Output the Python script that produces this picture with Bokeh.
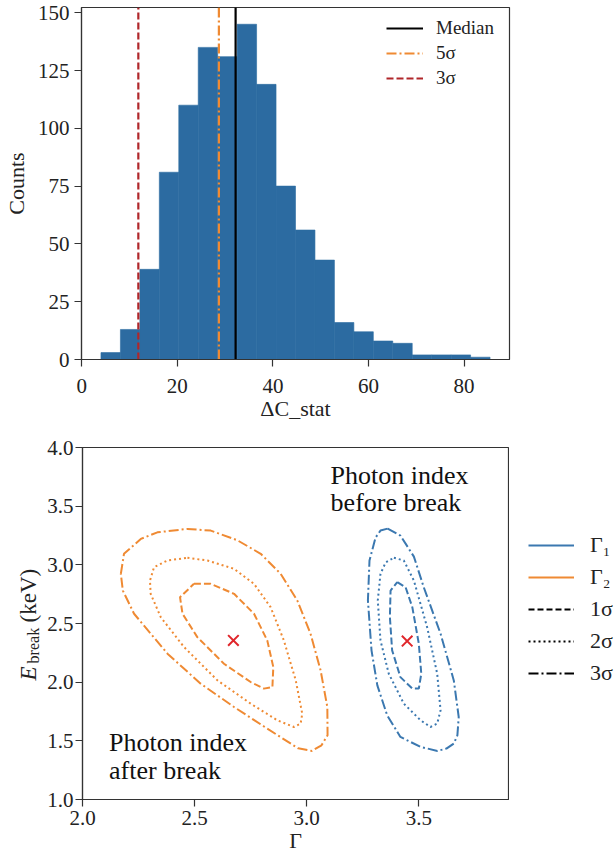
import numpy as np
from bokeh.plotting import figure
from bokeh.layouts import column, row
from bokeh.models import Range1d, FixedTicker, NumeralTickFormatter, Legend, LegendItem, Label
from bokeh.core.properties import value
from bokeh.embed import file_html
from bokeh.resources import INLINE

# ---------------- top panel: histogram of Delta C_stat ----------------
counts = [3, 13, 39, 81, 110, 135, 131, 145, 119, 75, 56, 43, 16, 12, 8, 7, 2, 2, 2, 1]
bin_start = 4.03
bin_width = 4.07
median_val = 32.2
five_sigma = 28.7
three_sigma = 11.85
hist_xticks = [0, 20, 40, 60, 80]
hist_yticks = [0, 25, 50, 75, 100, 125, 150]

# ---------------- bottom panel: confidence contours ----------------
# Gamma_1 (before break, blue)
g1_1s_x = [3.404, 3.441, 3.471, 3.500, 3.511, 3.500, 3.471, 3.418, 3.381, 3.371, 3.374]
g1_1s_y = [2.852, 2.809, 2.639, 2.328, 2.072, 1.945, 1.945, 2.043, 2.271, 2.554, 2.781]
g1_2s_x = [3.389, 3.433, 3.478, 3.537, 3.582, 3.597, 3.582, 3.552, 3.508, 3.433, 3.366, 3.329, 3.317, 3.329, 3.352]
g1_2s_y = [3.060, 3.037, 2.866, 2.469, 2.072, 1.760, 1.647, 1.618, 1.675, 1.817, 2.072, 2.356, 2.696, 2.923, 3.020]
g1_3s_x = [3.361, 3.418, 3.478, 3.522, 3.597, 3.656, 3.678, 3.672, 3.656, 3.623, 3.583, 3.508, 3.418, 3.359, 3.315, 3.289, 3.273, 3.280, 3.307, 3.329]
g1_3s_y = [3.309, 3.249, 3.070, 2.809, 2.413, 2.015, 1.703, 1.547, 1.477, 1.434, 1.414, 1.448, 1.533, 1.717, 1.973, 2.271, 2.696, 3.037, 3.232, 3.292]
# Gamma_2 (after break, orange)
g2_1s_x = [2.497, 2.572, 2.676, 2.765, 2.824, 2.851, 2.847, 2.809, 2.750, 2.631, 2.512, 2.446, 2.435]
g2_1s_y = [2.838, 2.838, 2.753, 2.583, 2.356, 2.129, 1.958, 1.945, 2.001, 2.157, 2.384, 2.583, 2.724]
g2_2s_x = [2.468, 2.557, 2.676, 2.765, 2.839, 2.898, 2.951, 2.980, 2.973, 2.943, 2.869, 2.750, 2.602, 2.453, 2.349, 2.304, 2.301, 2.319, 2.379]
g2_2s_y = [3.060, 3.037, 2.966, 2.838, 2.639, 2.356, 2.016, 1.732, 1.647, 1.618, 1.675, 1.817, 2.015, 2.299, 2.554, 2.753, 2.866, 2.980, 3.037]
g2_3s_x = [2.171, 2.185, 2.260, 2.334, 2.468, 2.572, 2.691, 2.795, 2.884, 2.958, 3.017, 3.062, 3.092, 3.093, 3.066, 3.023, 2.962, 2.824, 2.676, 2.527, 2.379, 2.230, 2.180]
g2_3s_y = [2.923, 3.094, 3.221, 3.277, 3.306, 3.292, 3.209, 3.094, 2.923, 2.696, 2.413, 2.100, 1.788, 1.547, 1.462, 1.414, 1.436, 1.604, 1.788, 1.987, 2.243, 2.583, 2.780]
best_x = [3.448, 2.673]
best_y = [2.350, 2.356]
cont_xticks = [2.0, 2.5, 3.0, 3.5]
cont_yticks = [1.0, 1.5, 2.0, 2.5, 3.0, 3.5, 4.0]

FONT = "Liberation Serif"
C_HIST = "#2c6ba1"
C_BLUE = "#3b78b0"
C_ORANGE = "#ef8a33"
C_RED = "#b0262a"
C_MARK = "#e0262b"
FRAME = "#333333"
TXT = "#222222"


def style(p, tick_standoff_x, tick_standoff_y):
    p.outline_line_color = FRAME
    p.outline_line_width = 1.2
    p.grid.visible = False
    for ax in (p.xaxis[0], p.yaxis[0]):
        ax.axis_line_color = FRAME
        ax.axis_line_width = 1.2
        ax.major_tick_line_color = FRAME
        ax.major_tick_line_width = 1.2
        ax.major_tick_in = 0
        ax.major_tick_out = 7
        ax.minor_tick_line_color = None
        ax.major_label_text_font = FONT
        ax.major_label_text_font_size = "21px"
        ax.major_label_text_color = TXT
        ax.axis_label_text_font = FONT
        ax.axis_label_text_font_size = "22px"
        ax.axis_label_text_font_style = "normal"
        ax.axis_label_text_color = TXT
    p.xaxis[0].major_label_standoff = tick_standoff_x
    p.yaxis[0].major_label_standoff = tick_standoff_y


# ---------------- top figure ----------------
n = len(counts)
edges = [bin_start + i * bin_width for i in range(n + 1)]
span = edges[-1] - edges[0]
x_lo, x_hi = edges[0] - 0.05 * span, edges[-1] + 0.05 * span
y_hi = max(counts) * 1.05

p1 = figure(width=615, height=430, output_backend="svg", toolbar_location=None,
            x_range=Range1d(x_lo, x_hi), y_range=Range1d(0, y_hi),
            min_border_left=80, min_border_right=106, min_border_top=7, min_border_bottom=71)
p1.quad(left=edges[:-1], right=edges[1:], bottom=0, top=counts,
        fill_color=C_HIST, line_color=C_HIST, line_width=0.6)
r_med = p1.segment(x0=[median_val], y0=[0], x1=[median_val], y1=[y_hi],
                   line_color="black", line_width=2.2)
r_5s = p1.segment(x0=[five_sigma], y0=[0], x1=[five_sigma], y1=[y_hi],
                  line_color=C_ORANGE, line_width=2.2, line_dash="10 3 2 3")
r_3s = p1.segment(x0=[three_sigma], y0=[0], x1=[three_sigma], y1=[y_hi],
                  line_color=C_RED, line_width=2.2, line_dash="7 3")
style(p1, 12, 5)
p1.xaxis[0].ticker = FixedTicker(ticks=hist_xticks)
p1.yaxis[0].ticker = FixedTicker(ticks=hist_yticks)
p1.xaxis[0].axis_label = "ΔC_stat"
p1.yaxis[0].axis_label = "Counts"
p1.xaxis[0].axis_label_standoff = 0
p1.yaxis[0].axis_label_standoff = 6

leg1 = Legend(items=[LegendItem(label="Median", renderers=[r_med]),
                     LegendItem(label="5σ", renderers=[r_5s]),
                     LegendItem(label="3σ", renderers=[r_3s])],
              location=(305, 270), orientation="vertical",
              glyph_width=37, glyph_height=22, label_height=22, label_standoff=13,
              spacing=3, padding=0, margin=0,
              label_text_font=FONT, label_text_font_size="19px", label_text_color=TXT,
              border_line_alpha=0, background_fill_alpha=0)
p1.add_layout(leg1)

# ---------------- bottom row ----------------
H2 = 426
LAB_W = 43
LEG_W = 106
TOP2, BOT2 = 17, 57

y_range2 = Range1d(1.0, 4.0)


def strip(width):
    f = figure(width=width, height=H2, output_backend="svg", toolbar_location=None,
               x_axis_type=None, y_axis_type=None,
               x_range=Range1d(0, width), y_range=y_range2,
               min_border=0, min_border_left=0, min_border_right=0,
               min_border_top=TOP2, min_border_bottom=BOT2)
    f.grid.visible = False
    f.outline_line_color = None
    return f


# y-axis label strip: E (italic) + "break" subscript + (keV), in the contour plot's y units
ylab = strip(LAB_W)
ylab.text(x=[28], y=[2.015], text=["E"], angle=np.pi / 2, text_font=value(FONT),
          text_font_size="23px", text_font_style="italic", text_align="left",
          text_baseline="middle", text_color=TXT)
ylab.text(x=[33], y=[2.160], text=["break"], angle=np.pi / 2, text_font=value(FONT),
          text_font_size="16px", text_align="left", text_baseline="middle", text_color=TXT)
ylab.text(x=[28], y=[2.509], text=["(keV)"], angle=np.pi / 2, text_font=value(FONT),
          text_font_size="23px", text_align="left", text_baseline="middle", text_color=TXT)

# contour figure
p2 = figure(width=615 - LAB_W - LEG_W, height=H2, output_backend="svg", toolbar_location=None,
            x_range=Range1d(2.0, 3.9), y_range=y_range2,
            min_border_left=82 - LAB_W, min_border_right=1, min_border_top=TOP2, min_border_bottom=BOT2)

contours = [
    (g1_1s_x, g1_1s_y, C_BLUE, "7 3"),
    (g1_2s_x, g1_2s_y, C_BLUE, "2 3"),
    (g1_3s_x, g1_3s_y, C_BLUE, "10 3 2 3"),
    (g2_1s_x, g2_1s_y, C_ORANGE, "7 3"),
    (g2_2s_x, g2_2s_y, C_ORANGE, "2 3"),
    (g2_3s_x, g2_3s_y, C_ORANGE, "10 3 2 3"),
]
for cx, cy, col, dash in contours:
    p2.line(cx + cx[:1], cy + cy[:1], line_color=col, line_width=2, line_dash=dash)

p2.scatter(best_x, best_y, marker="x", size=15, line_color=C_MARK, line_width=2)

style(p2, 4, 2)
p2.xaxis[0].ticker = FixedTicker(ticks=cont_xticks)
p2.yaxis[0].ticker = FixedTicker(ticks=cont_yticks)
p2.xaxis[0].formatter = NumeralTickFormatter(format="0.0")
p2.yaxis[0].formatter = NumeralTickFormatter(format="0.0")
p2.xaxis[0].axis_label = "Γ"
p2.xaxis[0].axis_label_standoff = 0

for tx, ty, txt in [(3.1065, 3.760, "Photon index"), (3.1065, 3.533, "before break"),
                    (2.1185, 1.490, "Photon index"), (2.1185, 1.249, "after break")]:
    p2.add_layout(Label(x=tx, y=ty, text=txt, text_font=FONT, text_font_size="26px",
                        text_align="left", text_baseline="middle", text_color="#111111"))

# legend strip (NaN-data renderers only carry the styles)
legf = strip(LEG_W)
nan2 = np.array([np.nan, np.nan])
d_g1 = legf.line(nan2, nan2, line_color=C_BLUE, line_width=2)
d_g2 = legf.line(nan2, nan2, line_color=C_ORANGE, line_width=2)
d_1s = legf.line(nan2, nan2, line_color="black", line_width=2, line_dash="6 3")
d_2s = legf.line(nan2, nan2, line_color="black", line_width=2, line_dash="2 3")
d_3s = legf.line(nan2, nan2, line_color="black", line_width=2, line_dash="10 3 2 3")
leg2 = Legend(items=[LegendItem(label="Γ₁", renderers=[d_g1]),
                     LegendItem(label="Γ₂", renderers=[d_g2]),
                     LegendItem(label="1σ", renderers=[d_1s]),
                     LegendItem(label="2σ", renderers=[d_2s]),
                     LegendItem(label="3σ", renderers=[d_3s])],
              location=(19, 113), orientation="vertical",
              glyph_width=46, glyph_height=26, label_height=26, label_standoff=16,
              spacing=6, padding=0, margin=0,
              label_text_font=FONT, label_text_font_size="22px", label_text_color=TXT,
              border_line_alpha=0, background_fill_alpha=0)
legf.add_layout(leg2)

layout = column(p1, row(ylab, p2, legf, spacing=0), spacing=0)
open("out.html", "w").write(file_html(layout, INLINE))
